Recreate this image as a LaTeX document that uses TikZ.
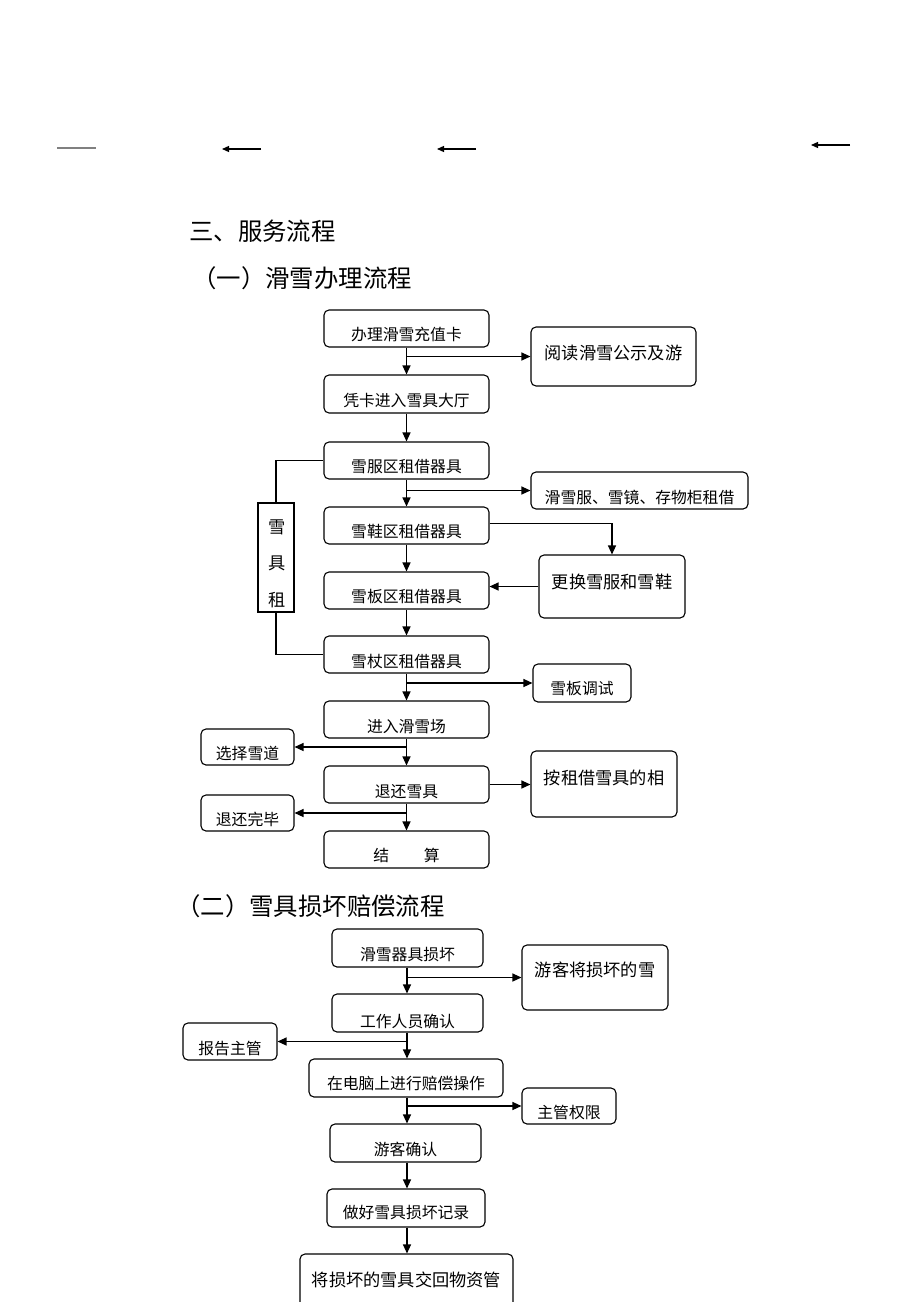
\documentclass[tikz,border=0pt]{standalone}
\usepackage{fontspec}
\setmainfont{Noto Sans CJK SC}
\usetikzlibrary{arrows.meta,fit,calc}
\tikzset{
 box/.style={draw, rounded corners=5pt, line width=1.1pt, inner sep=0pt},
 sqbox/.style={draw, line width=1.1pt, inner sep=0pt},
 txt/.style={inner sep=0pt, font=\fontsize{15.8}{19}\selectfont},
 big/.style={font=\fontsize{17.2}{21}\selectfont},
 arr/.style={line width=1.2pt, -{Triangle[length=9pt,width=8pt]}},
 ln/.style={line width=1.2pt},
 head/.style={inner sep=0pt, anchor=west, font=\fontsize{24.4}{29}\selectfont},
}
\newcommand\bx[8][]{%
 \coordinate (#2-nw) at (#3,#4);
 \coordinate (#2-se) at (#5,#6);
 \node[box, fit=(#2-nw)(#2-se)] (#2) {};
 \node[txt,#1] (#2-t) at ({(#3+#5)/2},#8) {#7};
}
\begin{document}
\begin{tikzpicture}[x=1pt,y=-1pt]
\useasboundingbox (0,0) rectangle (920,1302);
\clip (0,0) rectangle (920,1302);
\fill[white] (0,0) rectangle (920,1302);

% top marks
\coordinate (t0a) at (57,148); \coordinate (t0b) at (96,148);
\draw[line width=1.2pt, gray] (t0a) -- (t0b);
\coordinate (t1a) at (222,149); \coordinate (t1b) at (261,149);
\draw[arr, -{Triangle[length=7pt,width=6pt]}] (t1b) -- (t1a);
\coordinate (t2a) at (437,149); \coordinate (t2b) at (476,149);
\draw[arr, -{Triangle[length=7pt,width=6pt]}] (t2b) -- (t2a);
\coordinate (t3a) at (811,145); \coordinate (t3b) at (850,145);
\draw[arr, -{Triangle[length=7pt,width=6pt]}] (t3b) -- (t3a);

% headings
\node[head] (h1) at (189,231) {三、服务流程};
\node[head] (h2) at (192,278) {（一）滑雪办理流程};
\node[head] (h3) at (176,906) {（二）雪具损坏赔偿流程};

% ---- flow 1
\bx{b1}{324}{310}{489}{347}{办理滑雪充值卡}{334}
\bx[big]{r1}{531}{327}{696}{386}{阅读滑雪公示及游}{353}
\bx{b2}{324}{375}{489}{413}{凭卡进入雪具大厅}{400}
\bx{b3}{324}{442}{489}{479}{雪服区租借器具}{467}
\bx{r2}{531}{472}{748}{509}{滑雪服、雪镜、存物柜租借}{497}
\bx{b4}{324}{507}{489}{544}{雪鞋区租借器具}{532}
\bx[big]{r3}{539}{555}{685}{618}{更换雪服和雪鞋}{582}
\bx{b5}{324}{572}{489}{609}{雪板区租借器具}{597}
\bx{b6}{324}{636}{489}{673}{雪杖区租借器具}{662}
\bx{r4}{533}{664}{631}{702}{雪板调试}{689}
\bx{b7}{324}{701}{489}{738}{进入滑雪场}{727}
\bx{l1}{201}{729}{294}{765}{选择雪道}{753}
\bx{b8}{324}{766}{489}{803}{退还雪具}{792}
\bx[big]{r5}{531}{751}{677}{817}{按租借雪具的相}{778}
\bx{l2}{201}{795}{294}{831}{退还完毕}{819}
\bx{b9}{324}{831}{489}{868}{结\hspace{2.2em}算}{855}

% bracket box
\coordinate (bz-nw) at (258,503); \coordinate (bz-se) at (294,612);
\node[sqbox, fit=(bz-nw)(bz-se)] (bz) {};
\node[txt,big] (bz1) at (277,527) {雪};
\node[txt,big] (bz2) at (277,563) {具};
\node[txt,big] (bz3) at (277,600) {租};
\draw[ln] (bz.north) |- (b3.west);
\draw[ln] (bz.south) |- (b6.west);

% connectors flow 1
\draw[arr] (b1.south) -- (b1.south |- b2.north);
\draw[arr] (b1.south |- r1.west) -- (r1.west);
\draw[arr] (b2.south) -- (b2.south |- b3.north);
\draw[arr] (b3.south) -- (b3.south |- b4.north);
\draw[arr] (b3.south |- r2.west) -- (r2.west);
\draw[arr] (b4.south) -- (b4.south |- b5.north);
\draw[arr] ([yshift=2pt]b4.east) -| (r3.north);
\draw[arr] (r3.west) -- (r3.west -| b5.east);
\draw[arr] (b5.south) -- (b5.south |- b6.north);
\draw[arr] (b6.south) -- (b6.south |- b7.north);
\draw[arr] (b6.south |- r4.west) -- (r4.west);
\draw[arr] (b7.south) -- (b7.south |- b8.north);
\draw[arr] (b7.south |- l1.east) -- (l1.east);
\draw[arr] (b8.east) -- (b8.east -| r5.west);
\draw[arr] (b8.south) -- (b8.south |- b9.north);
\draw[arr] (b8.south |- l2.east) -- (l2.east);

% ---- flow 2
\bx{c1}{332}{929}{483}{967}{滑雪器具损坏}{955}
\bx[big]{r6}{522}{945}{668}{1010}{游客将损坏的雪}{970}
\bx{c2}{332}{994}{483}{1032}{工作人员确认}{1021}
\bx{l3}{183}{1023}{277}{1060}{报告主管}{1049}
\bx{c3}{309}{1059}{503}{1097}{在电脑上进行赔偿操作}{1083}
\bx{r7}{522}{1088}{616}{1124}{主管权限}{1112}
\bx{c4}{330}{1124}{481}{1162}{游客确认}{1149}
\bx{c5}{327}{1189}{485}{1227}{做好雪具损坏记录}{1213}
\bx[big]{c6}{300}{1254}{513}{1330}{将损坏的雪具交回物资管}{1280}

\coordinate (m) at (407,0);
\draw[arr] (c1.south -| m) -- (c2.north -| m);
\draw[arr] (m |- r6.west) -- (r6.west);
\draw[arr] (c2.south -| m) -- (c3.north -| m);
\draw[arr] (m |- l3.east) -- (l3.east);
\draw[arr] (c3.south -| m) -- (c4.north -| m);
\draw[arr] (m |- r7.west) -- (r7.west);
\draw[arr] (c4.south -| m) -- (c5.north -| m);
\draw[arr] (c5.south -| m) -- (c6.north -| m);
\end{tikzpicture}
\end{document}
